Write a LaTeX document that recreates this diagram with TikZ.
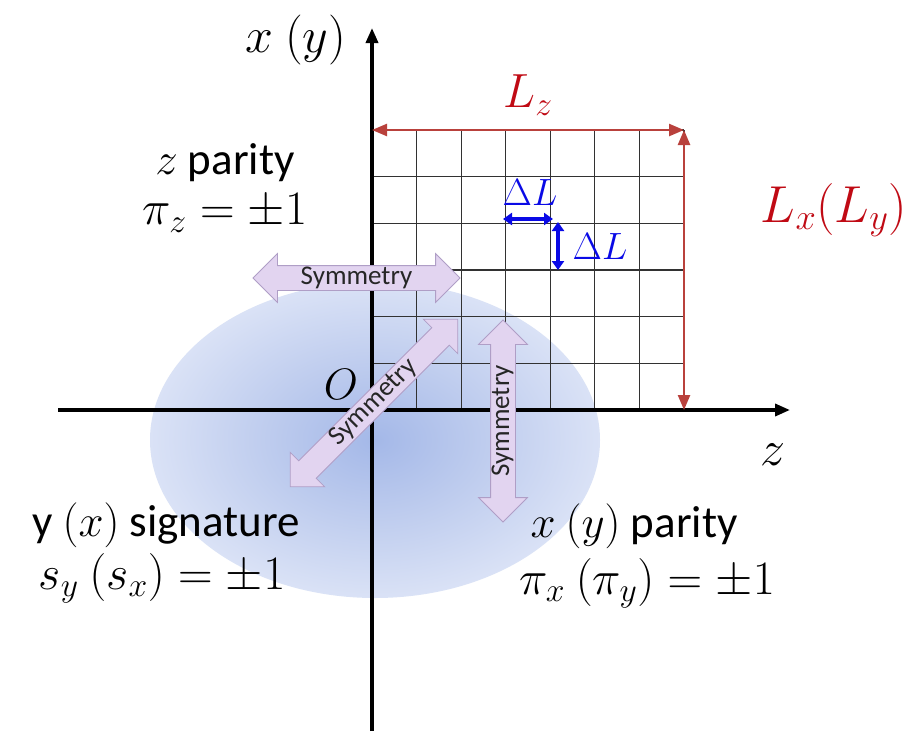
\RequirePackage{fix-cm}
\documentclass[tikz,border=0pt]{standalone}
\usepackage{fontspec}
\setmainfont{Carlito}
\usetikzlibrary{arrows.meta,shapes.arrows}
\definecolor{ellin}{RGB}{164,184,232}
\definecolor{ellmid}{RGB}{190,204,238}
\definecolor{ellout}{RGB}{218,226,246}
\definecolor{symfill}{RGB}{226,212,240}
\definecolor{symdraw}{RGB}{175,158,198}
\definecolor{arrred}{RGB}{185,65,60}
\definecolor{labred}{RGB}{192,10,20}
\definecolor{dlblue}{RGB}{10,10,230}
\definecolor{gridc}{RGB}{50,50,50}
\pgfdeclareradialshading{ellshade}{\pgfpoint{0bp}{0bp}}{color(0bp)=(ellin); color(12bp)=(ellmid); color(25bp)=(ellout); color(50bp)=(ellout)}
\begin{document}
\begin{tikzpicture}[x=1pt,y=-1pt,
  axisline/.style={line width=3.5pt, -{Triangle[length=15pt,width=12pt]}},
  redarr/.style={draw=arrred, line width=2.4pt, {Triangle[length=15pt,width=12pt]}-{Triangle[length=15pt,width=12pt]}},
  bluearr/.style={draw=dlblue, line width=3.2pt, {Triangle[length=9pt,width=12pt]}-{Triangle[length=9pt,width=12pt]}},
  symarr/.style={double arrow, draw=symdraw, fill=symfill, line width=0.8pt,
    double arrow head extend=12pt, double arrow tip angle=90,
    inner xsep=2pt, inner ysep=1pt, text height=17pt, text depth=5pt,
    font=\fontsize{27}{27}\selectfont, text=black!85},
  lbl/.style={font=\fontsize{45}{50}\selectfont, inner sep=0pt},
  mlbl/.style={font=\fontsize{48}{52}\selectfont, inner sep=0pt},
  biglbl/.style={font=\fontsize{50}{54}\selectfont, inner sep=0pt},
  redlbl/.style={font=\fontsize{48}{52}\selectfont, inner sep=0pt, text=labred},
  bluelbl/.style={font=\fontsize{38}{40}\selectfont, inner sep=0pt, text=dlblue}
]
\useasboundingbox (0,0) rectangle (923,731);
\fill[white] (0,0) rectangle (923,731);

% shaded ellipse
\shade[shading=ellshade] (375,440) ellipse [x radius=225pt, y radius=158pt];

% grid
\begin{scope}[shift={(372,410)}]
  \draw[gridc, line width=1.2pt, xstep=44.571pt, ystep=46.667pt] (0pt,0pt) grid (312.1pt,280.1pt);
\end{scope}

% axes
\coordinate (zl) at (58,410);
\coordinate (zr) at (790,410);
\coordinate (xb) at (372,731);
\coordinate (xt) at (372,28);
\draw[axisline] (zl) -- (zr);
\draw[axisline] (xb) -- (xt);

% box dimensions
\coordinate (g0) at (372,130);
\coordinate (g1) at (684,130);
\coordinate (g2) at (684,410);
\draw[redarr] (g0) -- (g1);
\draw[redarr] (g1) -- (g2);

% cell size
\coordinate (b1) at (503,219);
\coordinate (b2) at (553,219);
\coordinate (b3) at (558,222);
\coordinate (b4) at (558,270);
\draw[bluearr] (b1) -- (b2);
\draw[bluearr] (b3) -- (b4);

% symmetry arrows
\node[symarr, minimum height=207pt] (symh) at (356.5,278) {Symmetry};
\node[symarr, minimum height=237pt, rotate=45] (symd) at (374,403) {Symmetry};
\node[symarr, minimum height=202pt, rotate=90] (symv) at (503,421) {Symmetry};

% labels
\node[biglbl] (xaxl) at (296,40) {$x\ (y)$};
\node[biglbl] (zaxl) at (773,455) {$z$};
\node[biglbl, font=\fontsize{44}{48}\selectfont] (orig) at (341,384) {$O$};
\node[redlbl] (lz) at (528,95) {$L_z$};
\node[redlbl, font=\fontsize{52}{56}\selectfont] (lx) at (834,210) {$L_x\bigl(L_y\bigr)$};
\node[bluelbl] (dl1) at (530,193) {$\Delta L$};
\node[bluelbl] (dl2) at (600,247) {$\Delta L$};

\node[lbl] (zpar) at (225,163) {$z$ parity};
\node[mlbl] (zval) at (225,213) {$\pi_z = \pm 1$};
\node[lbl] (ysig) at (166,525) {y $(x)$ signature};
\node[mlbl] (yval) at (162,578) {$s_y\ (s_x) = \pm 1$};
\node[lbl] (xpar) at (634,526) {$x\ (y)$ parity};
\node[mlbl] (xval) at (647,583) {$\pi_x\ \bigl(\pi_y\bigr) = \pm 1$};
\end{tikzpicture}
\end{document}
